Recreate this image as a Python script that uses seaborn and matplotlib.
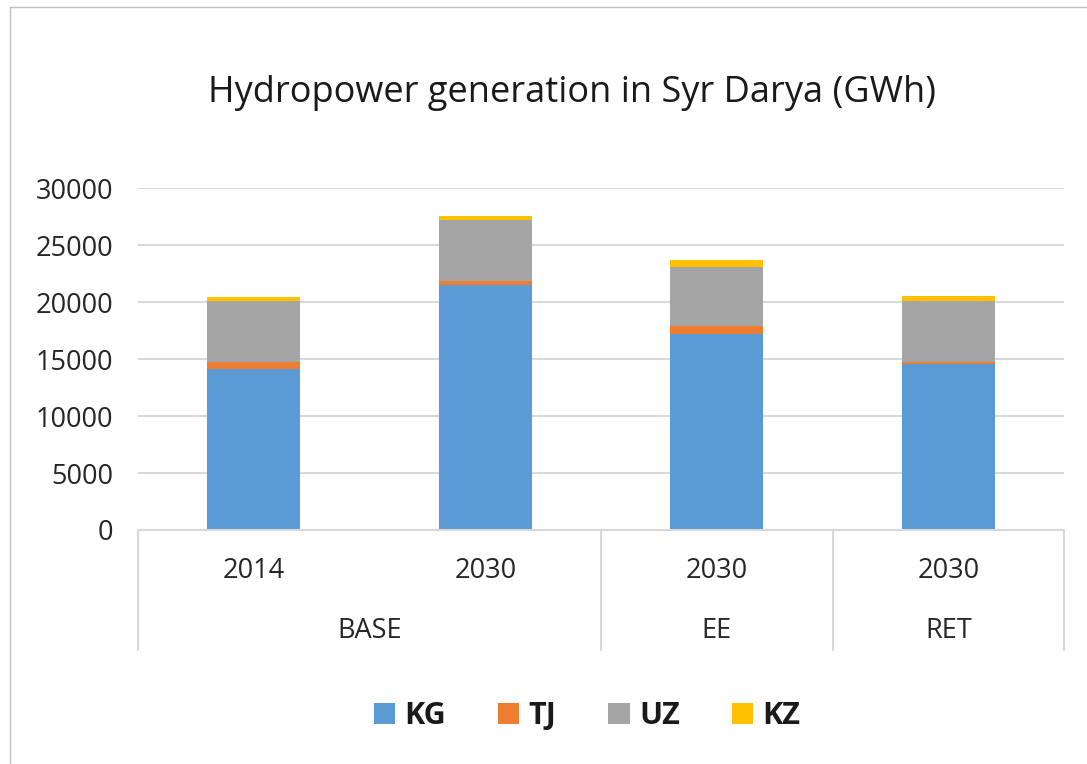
import matplotlib
matplotlib.use("Agg")
import matplotlib.pyplot as plt
import matplotlib.transforms as mtransforms
from matplotlib.patches import Patch, Rectangle
from matplotlib.lines import Line2D
import seaborn as sns
import pandas as pd
import numpy as np

# ---- data ----
scenarios = ["BASE", "BASE", "EE", "RET"]
years = ["2014", "2030", "2030", "2030"]
kg = [14100, 21500, 17200, 14550]
tj = [600, 300, 700, 200]
uz = [5370, 5350, 5200, 5340]
kz = [410, 430, 550, 410]
series_names = ["KG", "TJ", "UZ", "KZ"]
colors = ["#5B9BD5", "#ED7D31", "#A5A5A5", "#FFC000"]
title = "Hydropower generation in Syr Darya (GWh)"

sns.set_theme(style="white")
plt.rcParams["font.family"] = ["Open Sans", "DejaVu Sans"]

keys = [f"{s} {y}" for s, y in zip(scenarios, years)]
df = pd.DataFrame({"key": keys, "KG": kg, "TJ": tj, "UZ": uz, "KZ": kz})
cum = df[series_names].cumsum(axis=1)

W, H = 1087, 764
fig = plt.figure(figsize=(W / 100, H / 100), dpi=100)
fig.patch.set_facecolor("white")

ax = fig.add_axes([138 / W, 1 - 530 / H, (1064 - 138) / W, (530 - 188) / H])

# draw from the top cumulative down so each layer is visible
for name, col in reversed(list(zip(series_names, colors))):
    sns.barplot(x=df["key"], y=cum[name], color=col, width=0.4, ax=ax,
                order=keys, saturation=1, linewidth=0, errorbar=None)

txt_col = "#262626"
ax.set_ylim(0, 30000)
ax.set_xlim(-0.5, len(keys) - 0.5)
ax.set_yticks(np.arange(0, 30001, 5000))
ax.set_yticklabels([str(v) for v in range(0, 30001, 5000)], fontsize=19.5, color=txt_col)
ax.tick_params(axis="y", length=0, pad=18)
ax.yaxis.grid(True, color="#D9D9D9", linewidth=1.5)
ax.set_axisbelow(True)
for s in ["top", "right", "left"]:
    ax.spines[s].set_visible(False)
ax.spines["bottom"].set_color("#D9D9D9")
ax.spines["bottom"].set_linewidth(1.5)
ax.set_xlabel("")
ax.set_ylabel("")
ax.set_xticks(range(len(keys)))
ax.set_xticklabels([])
ax.tick_params(axis="x", length=0)

trans = mtransforms.blended_transform_factory(ax.transData, ax.transAxes)
for i, y in enumerate(years):
    ax.text(i, -0.12, y, transform=trans, ha="center", va="center",
            fontsize=19.5, color=txt_col)

# group labels and separators
groups = []
for i, s in enumerate(scenarios):
    if groups and groups[-1][0] == s:
        groups[-1][2] = i
    else:
        groups.append([s, i, i])
bounds = [-0.5]
for s, a, b in groups:
    ax.text((a + b) / 2, -0.295, s, transform=trans, ha="center", va="center",
            fontsize=19.5, color=txt_col)
    bounds.append(b + 0.5)
for bx in bounds:
    ax.add_line(Line2D([bx, bx], [0, -0.351], transform=trans, color="#D9D9D9",
                       linewidth=1.5, clip_on=False))

fig.text(572 / W, 1 - 93 / H, title, ha="center", va="center",
         fontsize=26, color="#1a1a1a")

handles = [Patch(facecolor=c, edgecolor="none") for c in colors]
leg = fig.legend(handles, series_names, loc="center", bbox_to_anchor=(587 / W, 1 - 716 / H),
                 ncol=4, frameon=False, handlelength=0.7, handleheight=0.7,
                 handletextpad=0.3, columnspacing=1.7,
                 prop={"size": 22, "weight": "bold", "family": ["Open Sans", "DejaVu Sans"]})
for t in leg.get_texts():
    t.set_color("#1a1a1a")

# chart border (left and top visible)
fig.patches.append(Rectangle((10 / W, -0.1), 1.2, 1 - 7 / H + 0.1, transform=fig.transFigure,
                             fill=False, edgecolor="#BFBFBF", linewidth=1))

fig.savefig("out.png", dpi=100, facecolor="white")
